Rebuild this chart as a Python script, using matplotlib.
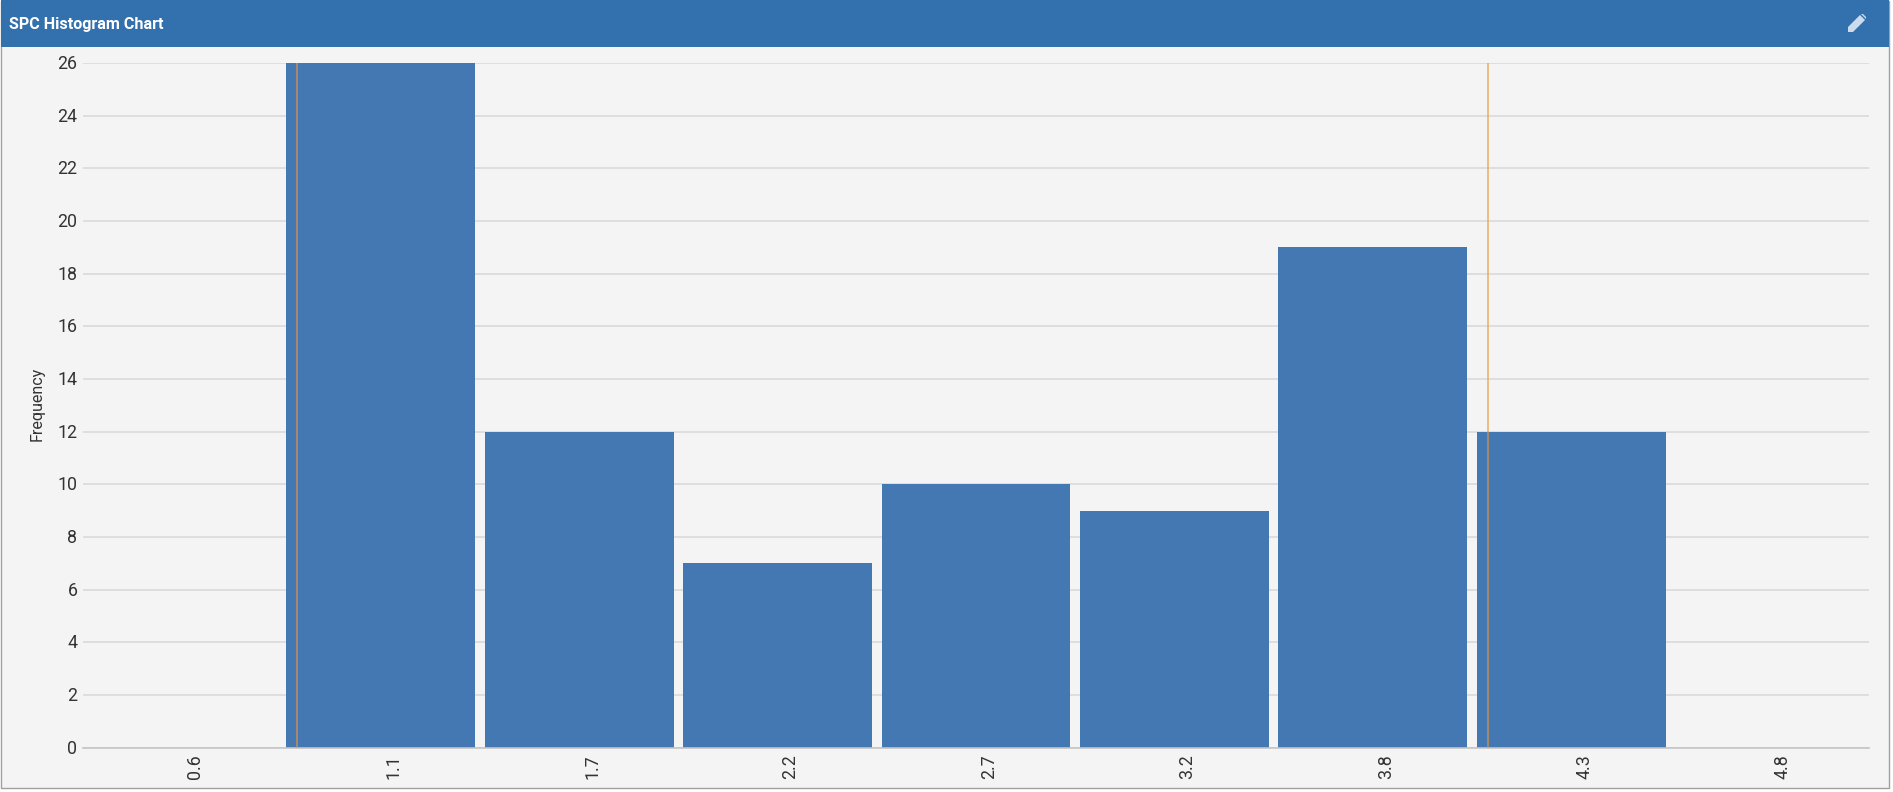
import matplotlib
matplotlib.use('Agg')
import numpy as np
import matplotlib.pyplot as plt
from matplotlib.patches import Rectangle, Polygon
from matplotlib.transforms import ScaledTranslation

W, H = 1893, 792

plt.rcParams['font.family'] = ['Roboto', 'DejaVu Sans']

categories = ['0.6', '1.1', '1.7', '2.2', '2.7', '3.2', '3.8', '4.3', '4.8']
frequency = [0, 26, 12, 7, 10, 9, 19, 12, 0]
y_ticks = list(range(0, 27, 2))
# spec limits, in category positions
limit_lines = [0.577, 6.58]


def fig_x(px):
    return px / W


def fig_y(px):
    return 1 - px / H


fig = plt.figure(figsize=(W / 100, H / 100), dpi=100, facecolor='white')

# panel background and header
fig.add_artist(Rectangle((fig_x(1), fig_y(788)), fig_x(1888), 787 / H, transform=fig.transFigure,
                         facecolor='#f4f4f4', edgecolor='#a0a0a0', linewidth=1))
fig.add_artist(Rectangle((fig_x(1), fig_y(47)), fig_x(1888), 47 / H, transform=fig.transFigure,
                         facecolor='#3370ae', edgecolor='none'))
fig.text(fig_x(9), fig_y(24), 'SPC Histogram Chart', color='white', fontsize=11.6,
         fontweight='bold', va='center', ha='left')

# edit pencil icon
pencil = [(1848, 32), (1848, 27), (1860, 15), (1865, 20), (1853, 32)]
tip = [(1861, 14), (1863, 14), (1866, 17), (1866, 19)]
for pts in (pencil, tip):
    fig.add_artist(Polygon([(fig_x(x), fig_y(y)) for x, y in pts], closed=True,
                           transform=fig.transFigure, facecolor='#cddcec', edgecolor='none'))

ax = fig.add_axes([fig_x(83), fig_y(747.5), fig_x(1869 - 83), (747.5 - 63) / H])
ax.set_facecolor('none')
ax.set_zorder(5)  # figure level patches would cover it otherwise

x = np.arange(len(categories))
ax.bar(x, frequency, width=0.952, color='#4478b3', zorder=2)
for pos in limit_lines:
    ax.axvline(pos, color='#e8963c', alpha=0.6, linewidth=1.4, zorder=3)

ax.set_xlim(-0.5, len(categories) - 0.5)
ax.set_ylim(0, 26)
ax.set_xticks(x)
ax.set_xticklabels(categories, rotation=90)
ax.set_yticks(y_ticks)
ax.set_ylabel('Frequency', fontsize=11.5, color='#333333')
ax.yaxis.set_label_coords(-0.0213, 0.5 + 1 / 684)
ax.yaxis.grid(True, color='#dadada', linewidth=1.2, zorder=1)
ax.set_axisbelow(True)
ax.tick_params(axis='both', length=0, labelsize=12.8, labelcolor='#333333')
ax.tick_params(axis='x', pad=5)
ax.tick_params(axis='y', pad=4)
# x labels sit a bit right of the bar centres in the original
shift = ScaledTranslation(13 / 100, 0, fig.dpi_scale_trans)
for label in ax.get_xticklabels():
    label.set_transform(label.get_transform() + shift)
lift = ScaledTranslation(0, 1 / 100, fig.dpi_scale_trans)
for label in ax.get_yticklabels():
    label.set_transform(label.get_transform() + lift)
for name in ['top', 'right', 'left']:
    ax.spines[name].set_visible(False)
ax.spines['bottom'].set_color('#c4c4c4')
ax.spines['bottom'].set_linewidth(1.2)

plt.savefig('out.png', dpi=100)
